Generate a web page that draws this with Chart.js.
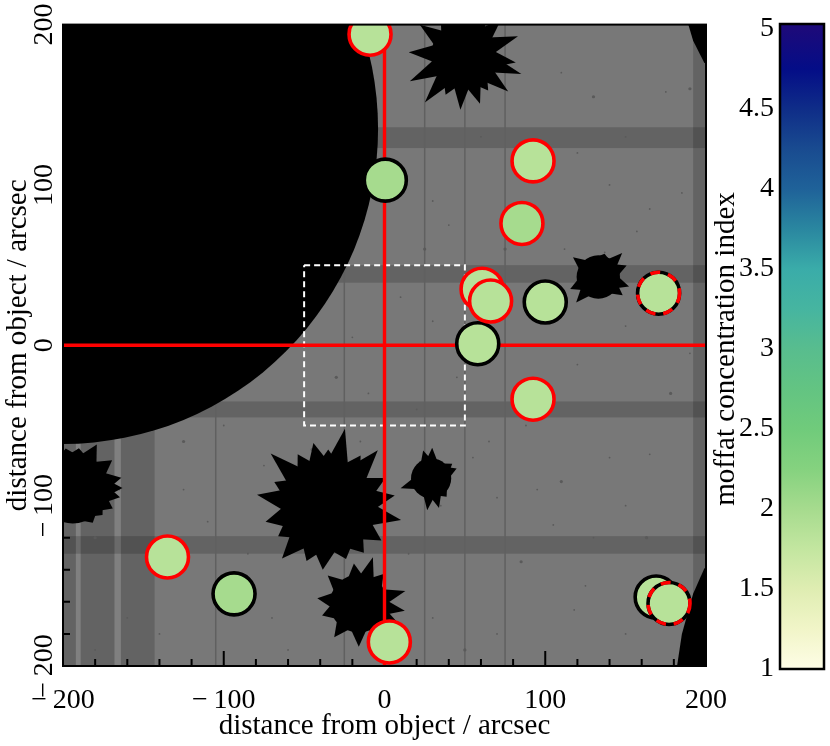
<!DOCTYPE html>
<html>
<head>
<meta charset="utf-8">
<title>moffat concentration map</title>
<script src="https://cdn.jsdelivr.net/npm/chart.js@4/dist/chart.umd.js"></script>
<style>
html, body { margin: 0; padding: 0; background: #fff; overflow: hidden; }
#mapChart { position: absolute; left: 0; top: 0; }
#barChart { position: absolute; left: 712px; top: 0; }
</style>
</head>
<body>
<canvas id="mapChart" width="830" height="746"></canvas>
<canvas id="barChart" width="118" height="746"></canvas>
<script>
'use strict';

//sources with a solid red ring
const redX = [-9, 92.4, 85.5, 60.7, 66, 92.4, -135, 3];
const redY = [194, 115, 76, 35, 27.6, -33.6, -132, -185];
const redC = [1.85, 1.85, 2, 1.85, 1.85, 1.85, 1.85, 1.85];
//sources with a solid black ring
const blackX = [0.5, 100, 58, -93.6, 169];
const blackY = [103, 27, 1, -155, -157];
const blackC = [2, 1.85, 1.85, 2, 1.85];
//sources with a red and black dashed ring
const dashX = [170.5, 177];
const dashY = [32.5, -161];
const dashC = [1.85, 1.85];

//colour bar
const barTicks = [1, 1.5, 2, 2.5, 3, 3.5, 4, 4.5, 5];
const barLevels = [1, 1.25, 1.5, 1.75, 2, 2.25, 2.5, 2.75, 3, 3.25, 3.5, 3.75, 4, 4.25, 4.5, 4.75, 5];
const barColors = ['#fefde6', '#f1f5c8', '#dfedb2', '#c3e6a0', '#a6db8e', '#85d27f', '#70cb7b', '#63c482', '#58bd8e',
    '#46b5a0', '#3aaca9', '#2a87a0', '#1f6299', '#194b90', '#0f2d88', '#040d87', '#1c0a7a'];

//image background, everything in arcsec
const darkRows = [[123, 136], [39, 50], [-45, -35], [-130, -119]];
const darkCols = [[-200, -192], [-189, -168], [-164, -143], [192, 200]];
const thinCols = [-105, -25, 25, 50, 75];
const specks = [[130, 155], [175, 158], [157, 71], [120, 120], [140, 100], [190, 160], [110, 170], [150, 130], [185, 95],
    [165, 85], [75, 60], [112, 60], [150, 12], [190, -5], [120, -12], [178, -30], [88, -50], [65, -60], [140, -70],
    [165, -68], [110, -85], [70, -95], [150, -100], [105, -112], [130, -120], [85, -135], [125, -150], [118, -165],
    [150, -180], [70, -180], [50, -190], [30, -170], [-60, -190], [-85, -130], [-110, -110], [-125, -60], [-75, -75],
    [-140, -180], [-160, -170], [-180, -190], [-180, -120], [-125, -90], [-165, -90], [-100, -50], [-10, -30],
    [-30, -20], [20, -40], [10, 30], [-20, 5], [30, 15], [25, 60], [30, 90], [60, 130], [40, 75], [45, -20],
    [-45, -65], [-15, -60], [55, -70], [15, -130], [137, 58], [163, -120], [95, -90], [35, -100], [-70, -170]];

//the big masked disc and the two corner masks
const discMask = [-200, 135, 196];
const cornerTop = [[189, 200], [192, 190], [199, 176], [200, 176], [200, 200]];
const cornerBottom = [[200, -139], [199, -139], [192, -155], [185, -180], [182, -200], [200, -200]];

//masked stars: centre x, centre y, core radius, then [angle, tip radius] per spike
const stars = [
    [-35, -101, 28, [[10, 42], [27, 40], [49, 47], [58, 38], [78, 50], [90, 36], [103, 41], [120, 38], [137, 49], [155, 37],
        [170, 45], [193, 40], [210, 36], [228, 43], [248, 36], [265, 39], [289, 34], [308, 36], [328, 39], [350, 46]]],
    [49, 181, 20, [[19, 36], [43, 32], [62, 30], [80, 28], [120, 28], [145, 33], [177, 34], [206, 37], [231, 38], [246, 27],
        [267, 34], [289, 32], [305, 27], [321, 36], [342, 38], [352, 33]]],
    [133, 42.6, 13.5, [[22, 19], [45, 21], [75, 15], [142, 20], [203, 19], [229, 21], [323, 19], [343, 20]]],
    [29, -83, 12.5, [[21, 17], [35, 16], [88, 19], [106, 18], [198, 20], [263, 20], [285, 19], [310, 15]]],
    [-194, -89, 22, [[0, 31], [12, 31], [35, 30], [61, 31], [81, 25], [100, 25], [349, 30], [333, 28], [318, 25], [300, 25]]],
    [-16, -161, 18, [[15, 30], [50, 24], [73, 30], [97, 25], [138, 26], [173, 26], [198, 24], [234, 26], [270, 27], [305, 25], [332, 29], [351, 29]]]
];

//axis ticks and lines
const minorStep = 20;
const axisTicks = [-200, -100, 0, 100, 200];
const crossH = [[-200, 0], [200, 0]];
const crossV = [[0, 200], [0, -200]];
const boxPath = [[-50, 50], [50, 50], [50, -50], [-50, -50], [-50, 50]];

const fontFamily = '"Liberation Serif", serif';
Chart.defaults.font.family = fontFamily;
Chart.defaults.color = '#000';

//turn a concentration into a colour from the bar
function colorFor(value) {
    let i = 0;
    while (i < barLevels.length - 2 && value >= barLevels[i + 1]) {
        i++;
    }
    const t = (value - barLevels[i]) / (barLevels[i + 1] - barLevels[i]);
    const a = parseInt(barColors[i].slice(1), 16);
    const b = parseInt(barColors[i + 1].slice(1), 16);
    const mix = function (shift) {
        const from = (a >> shift) & 255;
        const to = (b >> shift) & 255;
        return Math.round(from + (to - from) * t);
    };
    return `rgb(${mix(16)},${mix(8)},${mix(0)})`;
}

function toPoints(xs, ys) {
    return xs.map(function (x, i) {
        return { x: x, y: ys[i] };
    });
}

function pathPoints(list) {
    return list.map(function (p) {
        return { x: p[0], y: p[1] };
    });
}

function sourceSet(xs, ys, cs, ring, order) {
    return {
        data: toPoints(xs, ys),
        showLine: false,
        pointRadius: 21,
        pointBorderWidth: 3.6,
        pointBorderColor: ring,
        pointBackgroundColor: cs.map(colorFor),
        clip: 0,
        order: order
    };
}

function lineSet(list, color, width, dash, order) {
    return {
        data: pathPoints(list),
        showLine: true,
        borderColor: color,
        borderWidth: width,
        borderDash: dash,
        pointRadius: 0,
        clip: 0,
        order: order
    };
}

//draws the detector image under the datasets
const imagePlugin = {
    id: 'imagePlugin',
    beforeDatasetsDraw(chart) {
        const ctx = chart.ctx;
        const area = chart.chartArea;
        const sx = chart.scales.x;
        const sy = chart.scales.y;
        const px = function (v) { return sx.getPixelForValue(v); };
        const py = function (v) { return sy.getPixelForValue(v); };
        const unit = px(1) - px(0);

        ctx.save();
        ctx.beginPath();
        ctx.rect(area.left, area.top, area.width, area.height);
        ctx.clip();
        ctx.fillStyle = '#787878';
        ctx.fillRect(area.left, area.top, area.width, area.height);

        //the lighter slots between the left chips
        ctx.fillStyle = '#808080';
        ctx.fillRect(px(-192), area.top, px(-189) - px(-192), area.height);
        ctx.fillRect(px(-168), area.top, px(-164) - px(-168), area.height);

        ctx.fillStyle = 'rgba(0,0,0,0.17)';
        darkCols.forEach(function (c) {
            ctx.fillRect(px(c[0]), area.top, px(c[1]) - px(c[0]), area.height);
        });
        darkRows.forEach(function (r) {
            ctx.fillRect(area.left, py(r[1]), area.width, py(r[0]) - py(r[1]));
        });

        ctx.strokeStyle = '#606060';
        ctx.lineWidth = 1.5;
        thinCols.forEach(function (c) {
            ctx.beginPath();
            ctx.moveTo(px(c), area.top);
            ctx.lineTo(px(c), area.bottom);
            ctx.stroke();
        });

        ctx.fillStyle = '#5a5a5a';
        specks.forEach(function (s, i) {
            ctx.beginPath();
            ctx.arc(px(s[0]), py(s[1]), i % 5 === 0 ? 1.6 : 0.9, 0, Math.PI * 2);
            ctx.fill();
        });

        //masks
        ctx.fillStyle = '#000';
        ctx.beginPath();
        ctx.arc(px(discMask[0]), py(discMask[1]), discMask[2] * unit, 0, Math.PI * 2);
        ctx.fill();
        [cornerTop, cornerBottom].forEach(function (corner) {
            ctx.beginPath();
            corner.forEach(function (p, i) {
                if (i === 0) {
                    ctx.moveTo(px(p[0]), py(p[1]));
                } else {
                    ctx.lineTo(px(p[0]), py(p[1]));
                }
            });
            ctx.closePath();
            ctx.fill();
        });
        stars.forEach(function (star) {
            const cx = px(star[0]);
            const cy = py(star[1]);
            const core = star[2] * unit;
            ctx.beginPath();
            ctx.arc(cx, cy, core, 0, Math.PI * 2);
            ctx.fill();
            star[3].forEach(function (s) {
                const ang = -s[0] * Math.PI / 180;
                ctx.beginPath();
                ctx.moveTo(cx + Math.cos(ang - 0.28) * core * 0.95, cy + Math.sin(ang - 0.28) * core * 0.95);
                ctx.lineTo(cx + Math.cos(ang) * s[1] * unit, cy + Math.sin(ang) * s[1] * unit);
                ctx.lineTo(cx + Math.cos(ang + 0.28) * core * 0.95, cy + Math.sin(ang + 0.28) * core * 0.95);
                ctx.closePath();
                ctx.fill();
            });
        });

        //inward ticks sit under the marks
        ctx.strokeStyle = '#000';
        ctx.lineWidth = 2;
        for (let v = -200; v <= 200; v += minorStep) {
            const len = axisTicks.includes(v) ? 15 : 7;
            ctx.beginPath();
            ctx.moveTo(sx.getPixelForValue(v), area.bottom);
            ctx.lineTo(sx.getPixelForValue(v), area.bottom - len);
            ctx.moveTo(area.left, sy.getPixelForValue(v));
            ctx.lineTo(area.left + len, sy.getPixelForValue(v));
            ctx.stroke();
        }
        ctx.restore();
    },
    //red dashes on the rings of the dashed set
    beforeDatasetDraw(chart, args) {
        const ds = chart.data.datasets[args.index];
        if (ds.ringDash) {
            chart.ctx.setLineDash(ds.ringDash);
        }
    },
    afterDatasetDraw(chart) {
        chart.ctx.setLineDash([]);
    },
    //frame
    afterDraw(chart) {
        const ctx = chart.ctx;
        const area = chart.chartArea;
        ctx.save();
        ctx.strokeStyle = '#000';
        ctx.lineWidth = 2;
        ctx.strokeRect(area.left, area.top, area.width, area.height);
        ctx.restore();
    }
};

function axisLabel(value) {
    if (!axisTicks.includes(value)) {
        return '';
    }
    return value < 0 ? '\u2212\u2009' + Math.abs(value) : String(value);
}

//one top ring per dashed source, black underneath
const dashUnder = sourceSet(dashX, dashY, dashC, '#000', 1);
const dashOver = sourceSet(dashX, dashY, dashC, '#ff0000', 0);
dashOver.pointBackgroundColor = 'rgba(0,0,0,0)';
dashOver.ringDash = [10, 8];

new Chart(document.getElementById('mapChart'), {
    type: 'scatter',
    data: {
        datasets: [
            dashOver,
            dashUnder,
            sourceSet(redX, redY, redC, '#ff0000', 2),
            sourceSet(blackX, blackY, blackC, '#000', 3),
            lineSet(crossH, '#ff0000', 3.4, [], 4),
            lineSet(crossV, '#ff0000', 3.4, [], 4),
            lineSet(boxPath, '#ffffff', 2, [6, 4], 5)
        ]
    },
    options: {
        responsive: false,
        animation: false,
        layout: { padding: { top: 24, right: 124, left: 0, bottom: 0 } },
        plugins: { legend: { display: false }, tooltip: { enabled: false } },
        scales: {
            x: {
                type: 'linear',
                min: -200,
                max: 200,
                afterFit(scale) { scale.height = 80; },
                grid: { display: false },
                border: { display: false },
                ticks: {
                    stepSize: 100,
                    autoSkip: false,
                    maxRotation: 0,
                    padding: 10,
                    font: { size: 28 },
                    callback: axisLabel
                },
                title: {
                    display: true,
                    text: 'distance from object / arcsec',
                    font: { size: 29 },
                    padding: { top: 0, bottom: 2 }
                }
            },
            y: {
                type: 'linear',
                min: -200,
                max: 200,
                afterFit(scale) { scale.width = 63; },
                grid: { display: false },
                border: { display: false },
                ticks: {
                    stepSize: 100,
                    autoSkip: false,
                    minRotation: 90,
                    maxRotation: 90,
                    crossAlign: 'center',
                    padding: -21,
                    font: { size: 28 },
                    callback: axisLabel
                },
                title: {
                    display: true,
                    text: 'distance from object / arcsec',
                    font: { size: 29 },
                    padding: { top: 1, bottom: 0 }
                }
            }
        }
    },
    plugins: [imagePlugin]
});

//frame round the colour bar, the top colour runs on up to the frame
const barFrame = {
    id: 'barFrame',
    beforeDatasetsDraw(chart) {
        const ctx = chart.ctx;
        const area = chart.chartArea;
        ctx.save();
        ctx.fillStyle = barColors[barColors.length - 1];
        ctx.fillRect(area.left, area.top - 5, area.width, 6);
        ctx.restore();
    },
    afterDraw(chart) {
        const ctx = chart.ctx;
        const area = chart.chartArea;
        ctx.save();
        ctx.strokeStyle = '#000';
        ctx.lineWidth = 2.5;
        ctx.strokeRect(area.left, area.top - 5, area.width, area.height + 5);
        ctx.restore();
    }
};

new Chart(document.getElementById('barChart'), {
    type: 'bar',
    data: {
        labels: ['moffat'],
        datasets: [{
            data: [[barTicks[0], barTicks[barTicks.length - 1]]],
            barPercentage: 1,
            categoryPercentage: 1,
            backgroundColor(context) {
                const area = context.chart.chartArea;
                if (!area) {
                    return barColors[0];
                }
                const grad = context.chart.ctx.createLinearGradient(0, area.bottom, 0, area.top);
                barLevels.forEach(function (level, i) {
                    grad.addColorStop((level - 1) / 4, barColors[i]);
                });
                return grad;
            }
        }]
    },
    options: {
        responsive: false,
        animation: false,
        layout: { padding: { top: 29, right: 6, left: 0, bottom: 0 } },
        plugins: { legend: { display: false }, tooltip: { enabled: false } },
        scales: {
            x: {
                display: true,
                afterFit(scale) { scale.height = 77; },
                grid: { display: false },
                border: { display: false },
                ticks: { display: false }
            },
            y: {
                min: 1,
                max: 5,
                afterFit(scale) { scale.width = 68; },
                grid: { display: false },
                border: { display: false },
                afterBuildTicks(scale) {
                    scale.ticks = barTicks.map(function (v) { return { value: v }; });
                },
                ticks: {
                    padding: -2,
                    font: { size: 28 },
                    callback(value) { return String(value); }
                },
                title: {
                    display: true,
                    text: 'moffat concentration index',
                    font: { size: 29, lineHeight: 1 },
                    padding: { top: 0, bottom: 0 }
                }
            }
        }
    },
    plugins: [barFrame]
});
</script>
</body>
</html>
